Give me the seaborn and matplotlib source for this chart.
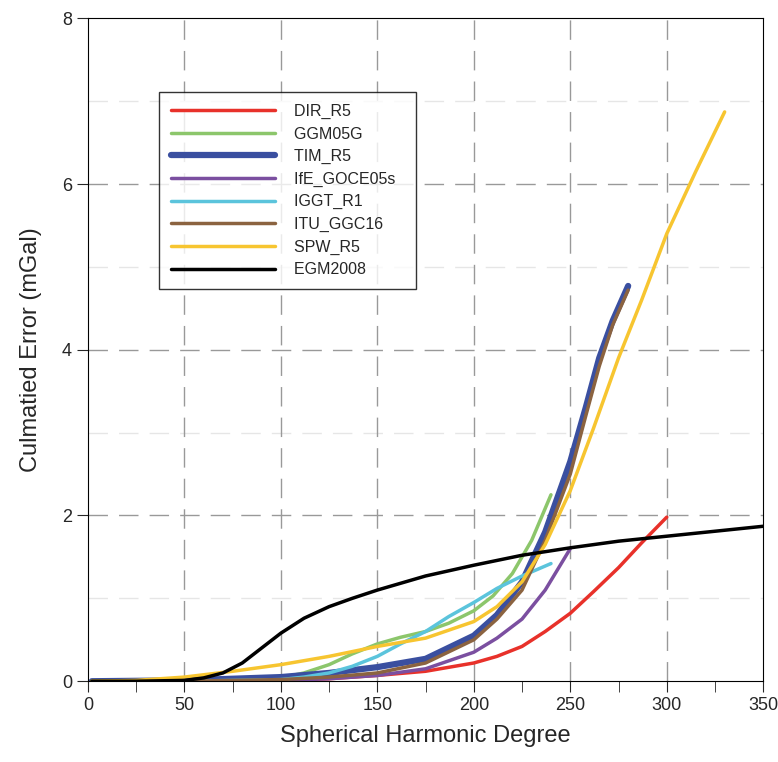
import matplotlib
matplotlib.use("Agg")
import matplotlib.pyplot as plt
import seaborn as sns
import pandas as pd

# degree / culmulated error (mGal)
egm_x = [2, 25, 50, 60, 70, 80, 90, 100, 112, 125, 137, 150, 175, 200, 225, 250, 275, 300, 325, 350]
egm_y = [0, 0, 0.01, 0.04, 0.1, 0.22, 0.4, 0.58, 0.76, 0.9, 1.0, 1.1, 1.27, 1.4, 1.52, 1.61, 1.69, 1.75, 1.81, 1.87]
dir_x = [2, 50, 100, 125, 150, 175, 200, 212, 225, 237, 250, 262, 275, 287, 300]
dir_y = [0, 0, 0.01, 0.03, 0.07, 0.12, 0.22, 0.3, 0.42, 0.6, 0.82, 1.08, 1.37, 1.67, 1.98]
ggm_x = [2, 50, 100, 112, 125, 137, 150, 162, 175, 187, 200, 210, 220, 230, 240]
ggm_y = [0, 0, 0.04, 0.1, 0.2, 0.33, 0.45, 0.53, 0.6, 0.7, 0.85, 1.03, 1.3, 1.7, 2.25]
tim_x = [2, 50, 100, 125, 150, 175, 200, 212, 225, 237, 250, 258, 265, 272, 280]
tim_y = [0, 0.01, 0.05, 0.1, 0.17, 0.27, 0.55, 0.8, 1.2, 1.8, 2.65, 3.3, 3.9, 4.35, 4.77]
ife_x = [2, 50, 100, 125, 150, 175, 200, 212, 225, 237, 250]
ife_y = [0, 0, 0.01, 0.03, 0.07, 0.15, 0.35, 0.52, 0.75, 1.1, 1.6]
iggt_x = [2, 50, 100, 112, 125, 137, 150, 162, 175, 187, 200, 212, 225, 240]
iggt_y = [0, 0, 0.02, 0.05, 0.1, 0.18, 0.3, 0.45, 0.6, 0.78, 0.95, 1.12, 1.27, 1.42]
itu_x = [2, 50, 100, 125, 150, 175, 200, 212, 225, 237, 250, 258, 265, 272, 280]
itu_y = [0, 0, 0.02, 0.05, 0.1, 0.22, 0.5, 0.75, 1.1, 1.7, 2.5, 3.2, 3.8, 4.3, 4.72]
spw_x = [2, 25, 50, 75, 100, 125, 150, 175, 200, 212, 225, 237, 250, 262, 275, 287, 300, 315, 330]
spw_y = [0, 0.01, 0.05, 0.12, 0.2, 0.3, 0.42, 0.52, 0.72, 0.9, 1.2, 1.65, 2.3, 3.05, 3.9, 4.6, 5.4, 6.15, 6.87]

series = [
    ("DIR_R5", dir_x, dir_y, "#e8312a", 2.5),
    ("GGM05G", ggm_x, ggm_y, "#8cc66b", 2.5),
    ("TIM_R5", tim_x, tim_y, "#3a4fa0", 4.5),
    ("IfE_GOCE05s", ife_x, ife_y, "#7b4fa0", 2.5),
    ("IGGT_R1", iggt_x, iggt_y, "#5bc4dc", 2.5),
    ("ITU_GGC16", itu_x, itu_y, "#8b6340", 2.5),
    ("SPW_R5", spw_x, spw_y, "#f7c530", 2.5),
    ("EGM2008", egm_x, egm_y, "black", 2.5),
]

sns.set_style("white")
plt.rcParams['font.family'] = ['Liberation Sans', 'DejaVu Sans']
fig, ax = plt.subplots(figsize=(7.78, 7.62), dpi=100)
fig.subplots_adjust(left=0.113, right=0.981, top=0.976, bottom=0.106)

for y in [1, 3, 5, 7]:
    ax.axhline(y, color="#e6e6e6", lw=1, ls=(0, (14, 8)), zorder=0)
for y in [2, 4, 6]:
    ax.axhline(y, color="#999999", lw=1, ls=(0, (14, 8)), zorder=0)
for x in range(50, 350, 50):
    ax.axvline(x, color="#999999", lw=1, ls=(0, (14, 8)), zorder=0)

for name, xs, ys, c, lw in series:
    df = pd.DataFrame({"x": xs, "y": ys})
    sns.lineplot(data=df, x="x", y="y", ax=ax, color=c, lw=lw, label=name)

ax.set_xlim(0, 350)
ax.set_ylim(0, 8)
ax.set_xticks(range(0, 351, 50))
ax.set_xticks(range(25, 350, 50), minor=True)
ax.set_yticks(range(0, 9, 2))
ax.tick_params(axis="both", which="both", direction="out", length=8, labelsize=13, bottom=True, left=True)
ax.set_xlabel("Spherical Harmonic Degree", fontsize=17, labelpad=8)
ax.set_ylabel("Culmatied Error (mGal)", fontsize=17, labelpad=14)
for s in ax.spines.values():
    s.set_color("black")

leg = ax.legend(loc="upper left", bbox_to_anchor=(0.105, 0.889), fontsize=11.5,
                frameon=True, fancybox=False, edgecolor="black", handlelength=6.5,
                borderpad=0.75, labelspacing=0.47, handletextpad=1.2, borderaxespad=0)
leg.get_frame().set_linewidth(1)
for t in leg.get_texts():
    t.set_text(t.get_text() + "  ")

plt.savefig("out.png")
